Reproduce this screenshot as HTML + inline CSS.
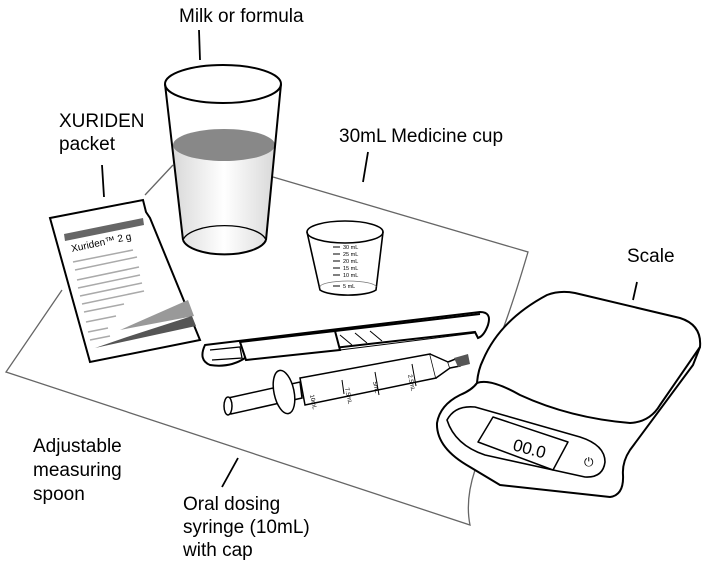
<!DOCTYPE html>
<html><head><style>
html,body{margin:0;padding:0;background:#fff;}
svg{display:block;}
text{font-family:"Liberation Sans",sans-serif;}
</style></head><body>
<svg width="712" height="570" viewBox="0 0 712 570" xmlns="http://www.w3.org/2000/svg">
<defs>
<linearGradient id="g1" x1="0" x2="1"><stop offset="0" stop-color="#d8d8d8"/><stop offset="0.5" stop-color="#fff"/><stop offset="1" stop-color="#d8d8d8"/></linearGradient>
</defs>
<!-- mat -->
<g fill="none" stroke="#666" stroke-width="1.3">
<path d="M273,177 L528,252 Q505,330 490,360"/>
<path d="M173,165 L145,195"/>
<path d="M62,290 L6,372 L470,525 Q465,500 475,470"/>
</g>
<!-- glass -->
<path d="M172,145 L183,240 A42,17 0 0 0 266,240 L276,145 Z" fill="url(#g1)"/>
<ellipse cx="224" cy="145" rx="51" ry="16" fill="#888"/>
<g fill="none" stroke="#000" stroke-width="2">
<ellipse cx="223" cy="84" rx="58" ry="19"/>
<path d="M165,84 L183,240 M281,84 L266,240"/>
<path d="M183,240 A42,17 0 0 0 266,240"/>
</g>
<path d="M183,240 A42,17 0 0 1 266,240" fill="none" stroke="#000" stroke-width="1.3"/>
<!-- medicine cup -->
<g fill="none" stroke="#000" stroke-width="1.6">
<ellipse cx="345" cy="232" rx="38" ry="11"/>
<path d="M307,232 L320,290 A30,8 0 0 0 376,290 L383,232"/>
<path d="M320,287 A28,6 0 0 1 376,287" stroke-width="0.8" stroke="#777"/>
</g>
<g font-size="5.5" fill="#000">
<text x="343" y="249">30 mL</text><text x="343" y="256">25 mL</text><text x="343" y="263">20 mL</text><text x="343" y="270">15 mL</text><text x="343" y="277">10 mL</text><text x="343" y="288">5 mL</text>
</g>
<g stroke="#000" stroke-width="1"><path d="M333,247h7M333,254h7M333,261h7M333,268h7M333,275h7M333,286h7"/></g>
<!-- packet -->
<path d="M50,218 L143,200 L146,212 L150,218 L200,340 L90,362 Z" fill="#fff" stroke="#000" stroke-width="2"/>
<path d="M64,234 L143,218 L144,225 L65,241 Z" fill="#666"/>
<text x="72" y="252" font-size="10" font-family="Liberation Serif" transform="rotate(-12 72 252)">Xuriden™ 2 g</text>
<g stroke="#aaa" stroke-width="1.5">
<path d="M73,262l60,-12M75,270l62,-13M77,280l62,-13M78,288l62,-13M80,296l62,-13M82,304l62,-13M84,312l40,-8M86,322l30,-6M88,332l20,-4M90,340l20,-4"/>
</g>
<path d="M120,330 L188,300 L194,316 Z" fill="#999"/>
<path d="M130,336 L192,316 L196,326 L95,348 Z" fill="#555"/>
<!-- spoon -->
<g fill="#fff" stroke="#000" stroke-width="2">
<path d="M205,345 L480,312 Q492,312 488,325 Q484,336 478,338 L475,332 L245,358 Q230,368 210,365 Q198,360 205,345 Z"/>
<path d="M240,342 L335,331 L340,350 L246,360 Z"/>
<path d="M335,331 L480,314" fill="none"/>
<path d="M210,350 L240,347 L242,358 L212,360" fill="none" stroke-width="1.3"/>
</g>
<g stroke="#000" stroke-width="1"><path d="M340,335l12,10M355,333l12,10M370,331l12,10M340,350l135,-17"/></g>
<!-- syringe -->
<g fill="#fff" stroke="#000" stroke-width="1.5">
<path d="M228,398 L300,382 L302,398 L231,414 Z"/>
<ellipse cx="228" cy="406" rx="4" ry="9"/>
<path d="M300,378 L430,354 L436,378 L305,405 Z"/>
<ellipse cx="284" cy="392" rx="10" ry="22" transform="rotate(-12 284 392)"/>
<path d="M430,354 L448,362 L450,368 L436,378"/>
<path d="M448,362 L458,358 L460,366 L450,368"/>
</g>
<path d="M454,358 L468,354 L470,364 L458,367 Z" fill="#555"/>
<g font-size="6" fill="#000">
<text x="310" y="395" transform="rotate(78 310 395)">10mL</text>
<text x="345" y="388" transform="rotate(78 345 388)">7.5mL</text>
<text x="373" y="382" transform="rotate(78 373 382)">5mL</text>
<text x="408" y="375" transform="rotate(78 408 375)">2.5mL</text>
</g>
<g stroke="#000" stroke-width="1"><path d="M375,372l4,23M412,364l4,22M342,380l2,14"/></g>
<!-- scale -->
<g fill="#fff" stroke="#000" stroke-width="2" stroke-linejoin="round">
<path d="M483,360 Q500,320 547,295 Q560,290 575,293 L680,318 Q702,325 700,347 L693,365 L630,450 Q622,462 623,475 Q624,495 610,497 L500,485 L470,467 Q436,448 437,423 Q440,405 460,395 Q472,390 477,383 Q478,370 483,360 Z"/>
<path d="M477,383 Q490,378 520,395 Q570,418 630,423 Q650,422 660,405 L700,347" fill="none"/>
<path d="M447,420 Q455,405 475,407 L580,437 Q605,445 605,462 Q603,478 585,477 L485,455 Q455,445 447,420 Z" fill="none" stroke-width="1.6"/>
<path d="M493,417 L568,442 L553,470 L478,442 Z" stroke-width="1.5"/>
</g>
<text x="512" y="450" font-size="17" transform="rotate(15 512 450)">00.0</text>
<text x="584" y="466" font-size="12">⏻</text>
<!-- leader lines -->
<g stroke="#000" stroke-width="1.8">
<path d="M199,30 L200,60 M102,165 L104,197 M368,152 L363,182 M637,282 L633,300 M238,458 L222,487"/>
</g>
<!-- labels -->
<g font-size="19" fill="#000">
<text x="179" y="22">Milk or formula</text>
<text x="59" y="127">XURIDEN</text>
<text x="59" y="150">packet</text>
<text x="339" y="142">30mL Medicine cup</text>
<text x="627" y="262">Scale</text>
<text x="33" y="452">Adjustable</text>
<text x="33" y="476">measuring</text>
<text x="33" y="500">spoon</text>
<text x="183" y="510">Oral dosing</text>
<text x="183" y="533">syringe (10mL)</text>
<text x="183" y="556">with cap</text>
</g>
</svg>
</body></html>
